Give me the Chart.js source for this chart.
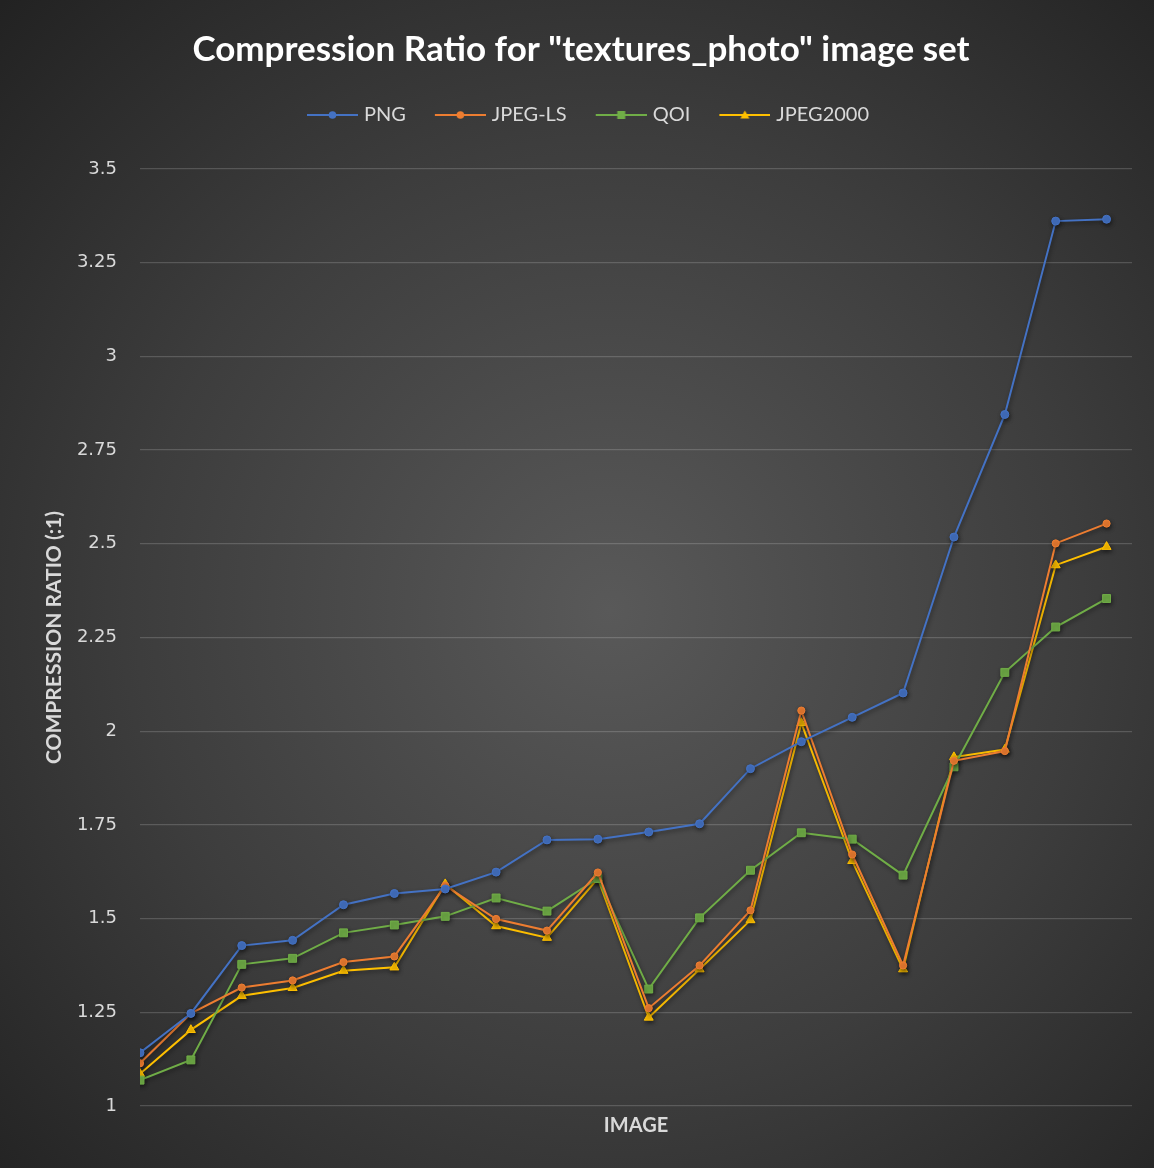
<!DOCTYPE html>
<html>
<head>
<meta charset="utf-8">
<script src="https://cdn.jsdelivr.net/npm/chart.js@4.4.1/dist/chart.umd.min.js"></script>
<style>
  html, body { margin: 0; padding: 0; background: #2a2a2a; }
  #wrap { width: 1154px; height: 1168px; }
</style>
</head>
<body>
<div id="wrap"><canvas id="myChart" width="1154" height="1168"></canvas></div>
<script>
// images in the set (x axis has no tick labels in the original)
const images = ["1", "2", "3", "4", "5", "6", "7", "8", "9", "10",
  "11", "12", "13", "14", "15", "16", "17", "18", "19", "20"];

const png = [1.142, 1.247, 1.428, 1.442, 1.537, 1.567, 1.579, 1.624, 1.710, 1.712,
  1.731, 1.753, 1.900, 1.972, 2.037, 2.102, 2.518, 2.845, 3.361, 3.366];
const jpegLs = [1.114, 1.247, 1.316, 1.335, 1.384, 1.399, 1.588, 1.499, 1.468, 1.623,
  1.261, 1.375, 1.522, 2.055, 1.671, 1.375, 1.921, 1.947, 2.501, 2.554];
const qoi = [1.069, 1.123, 1.378, 1.394, 1.462, 1.483, 1.506, 1.555, 1.520, 1.607,
  1.312, 1.502, 1.629, 1.729, 1.712, 1.616, 1.905, 2.157, 2.278, 2.354];
const jpeg2000 = [1.086, 1.203, 1.294, 1.315, 1.361, 1.370, 1.592, 1.480, 1.449, 1.607,
  1.236, 1.365, 1.496, 2.022, 1.654, 1.365, 1.931, 1.951, 2.443, 2.492];

const yTicks = [1, 1.25, 1.5, 1.75, 2, 2.25, 2.5, 2.75, 3, 3.25, 3.5];

function toPoints(values) {
  return values.map((v, i) => ({ x: i, y: v, image: images[i] }));
}

// legend swatch: short line with the marker in the middle
function legendSwatch(color, shape) {
  const c = document.createElement("canvas");
  c.width = 55;
  c.height = 14;
  const g = c.getContext("2d");
  const mid = 29.5;
  g.strokeStyle = color;
  g.lineWidth = 2;
  g.beginPath();
  g.moveTo(4, 7);
  g.lineTo(55, 7);
  g.stroke();
  g.fillStyle = color;
  g.beginPath();
  if (shape === "rect") {
    g.rect(mid - 4, 3, 8, 8);
  } else if (shape === "triangle") {
    g.moveTo(mid, 2.5);
    g.lineTo(mid + 4.5, 10.5);
    g.lineTo(mid - 4.5, 10.5);
    g.closePath();
  } else {
    g.arc(mid, 7, 3.8, 0, Math.PI * 2);
  }
  g.fill();
  return c;
}

function makeSet(label, values, color, shape, radius) {
  return {
    label,
    data: toPoints(values),
    borderColor: color,
    backgroundColor: color,
    borderWidth: 2,
    pointStyle: shape,
    pointRadius: radius,
    pointHoverRadius: radius,
    pointBorderWidth: 1,
    tension: 0,
    swatch: legendSwatch(color, shape)
  };
}

const bgPlugin = {
  id: "bg",
  beforeDraw(chart) {
    const { ctx, width, height } = chart;
    const grd = ctx.createRadialGradient(610, 610, 0, 610, 610, 860);
    grd.addColorStop(0, "#595959");
    grd.addColorStop(0.55, "#3d3d3d");
    grd.addColorStop(1, "#222222");
    ctx.save();
    ctx.fillStyle = grd;
    ctx.fillRect(0, 0, width, height);
    ctx.restore();
  },
  beforeDatasetsDraw(chart) {
    chart.ctx.save();
    chart.ctx.shadowColor = "rgba(0,0,0,0.45)";
    chart.ctx.shadowBlur = 4;
    chart.ctx.shadowOffsetX = 1;
    chart.ctx.shadowOffsetY = 2;
  },
  afterDatasetsDraw(chart) {
    chart.ctx.restore();
  }
};

// extra room under the legend, and center the row without the trailing padding
const legendGap = {
  id: "legendGap",
  beforeInit(chart) {
    const fit = chart.legend.fit;
    chart.legend.fit = function () {
      fit.bind(chart.legend)();
      this.height += 34;
      this.lineWidths[0] -= 14;
    };
  }
};

const ctx = document.getElementById("myChart").getContext("2d");

window.myChart = new Chart(ctx, {
  type: "line",
  data: {
    datasets: [
      makeSet("PNG", png, "#4472C4", "circle", 4),
      makeSet("JPEG-LS", jpegLs, "#ED7D31", "circle", 3.6),
      makeSet("QOI", qoi, "#70AD47", "rect", 5.6),
      makeSet("JPEG2000", jpeg2000, "#FFC000", "triangle", 5.2)
    ]
  },
  plugins: [bgPlugin, legendGap],
  options: {
    responsive: false,
    animation: false,
    layout: {
      padding: { top: 0, left: 30, right: 22, bottom: 26 }
    },
    scales: {
      x: {
        type: "linear",
        min: 0,
        max: 19.5,
        grid: { display: false },
        border: { display: false },
        ticks: { display: false },
        title: {
          display: true,
          text: "IMAGE",
          color: "#d9d9d9",
          font: { family: "Lato", size: 20, weight: "bold" },
          padding: { top: 0, bottom: 4 }
        }
      },
      y: {
        min: 1,
        max: 3.5,
        afterBuildTicks(scale) {
          scale.ticks = yTicks.map((v) => ({ value: v }));
        },
        afterFit(scale) {
          scale.width = 110;
        },
        grid: {
          color: "rgba(255,255,255,0.17)",
          lineWidth: 1.3,
          drawTicks: false
        },
        border: { display: false },
        ticks: {
          color: "#d9d9d9",
          padding: 23,
          font: { family: "DejaVu Sans", size: 18 },
          callback: (v) => String(v)
        },
        title: {
          display: true,
          text: "COMPRESSION RATIO (:1)",
          color: "#d9d9d9",
          font: { family: "Lato", size: 21, weight: "bold" },
          padding: { top: 12, bottom: 0 }
        }
      }
    },
    plugins: {
      title: {
        display: true,
        text: 'Compression Ratio for "textures_photo" image set',
        color: "#ffffff",
        font: { family: "Lato", size: 35, weight: "bold" },
        padding: { top: 29, bottom: 5 }
      },
      legend: {
        display: true,
        labels: {
          color: "#d9d9d9",
          font: { family: "Lato", size: 20 },
          usePointStyle: true,
          pointStyleWidth: 47,
          padding: 29,
          generateLabels(chart) {
            return chart.data.datasets.map((ds, i) => ({
              text: ds.label,
              pointStyle: ds.swatch,
              fontColor: "#d9d9d9",
              datasetIndex: i,
              hidden: false
            }));
          }
        }
      },
      tooltip: { enabled: false }
    }
  }
});
</script>
</body>
</html>
